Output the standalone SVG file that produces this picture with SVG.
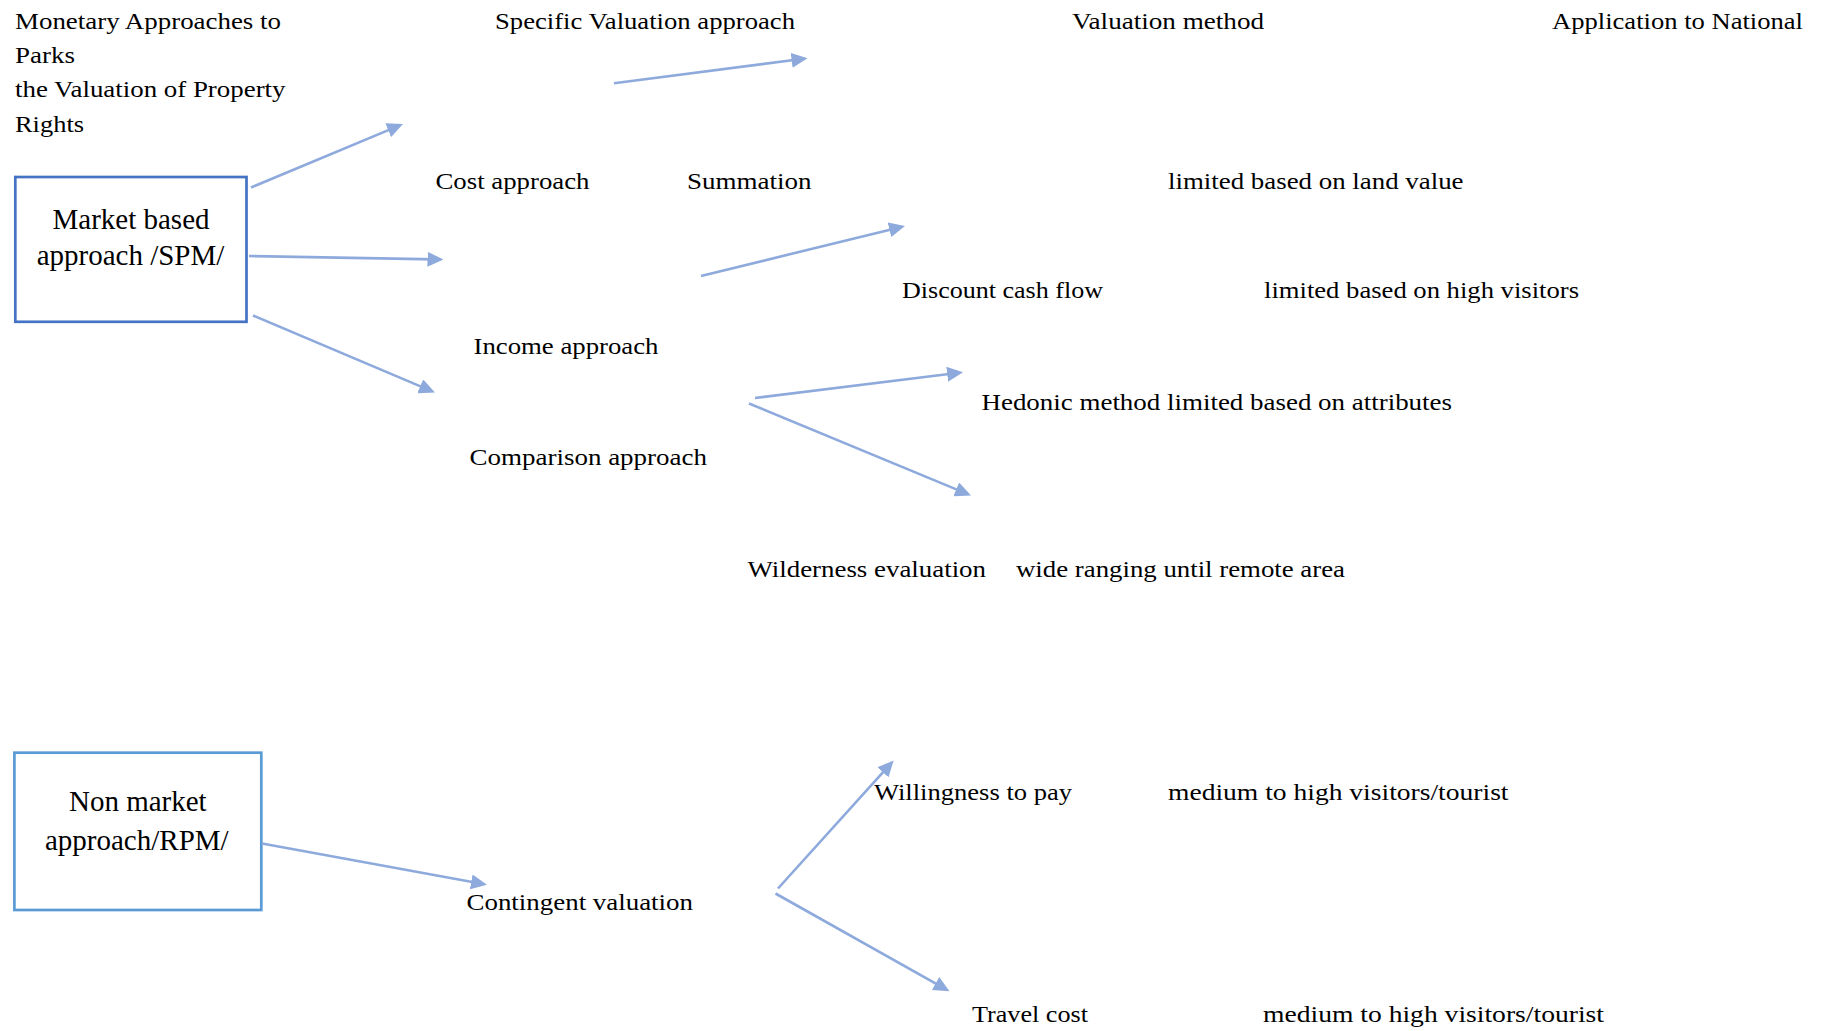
<svg xmlns="http://www.w3.org/2000/svg" width="1827" height="1031" viewBox="0 0 1827 1031">
<style>
.t{font-family:"Liberation Serif","Times New Roman",serif;font-size:24px;fill:#000}
.b{font-family:"Liberation Serif","Times New Roman",serif;font-size:29px;fill:#000;text-anchor:middle}
.c{stroke:#8eaadc;stroke-width:2.6;fill:none}
</style>
<defs>
<marker id="ah" markerUnits="userSpaceOnUse" markerWidth="16" markerHeight="15" refX="8" refY="7.5" orient="auto" viewBox="0 0 16 15">
<path d="M0,0 L16,7.5 L0,15 z" fill="#8eaadc"/>
</marker>
</defs>
<rect width="1827" height="1031" fill="#fff"/>
<g id="labels">
<text class="t" x="15" y="28.5" textLength="266" lengthAdjust="spacingAndGlyphs">Monetary Approaches to</text>
<text class="t" x="15" y="62.5" textLength="60" lengthAdjust="spacingAndGlyphs">Parks</text>
<text class="t" x="15" y="97" textLength="270.5" lengthAdjust="spacingAndGlyphs">the Valuation of Property</text>
<text class="t" x="15" y="132" textLength="69" lengthAdjust="spacingAndGlyphs">Rights</text>
<text class="t" x="495" y="28.5" textLength="300" lengthAdjust="spacingAndGlyphs">Specific Valuation approach</text>
<text class="t" x="1072" y="28.5" textLength="192" lengthAdjust="spacingAndGlyphs">Valuation method</text>
<text class="t" x="1552" y="28.5" textLength="251" lengthAdjust="spacingAndGlyphs">Application to National</text>
</g>
<g id="market-box">
<rect x="15.3" y="177" width="231.2" height="144.8" fill="none" stroke="#4472c4" stroke-width="2.7"/>
<text class="b" x="131" y="229.3">Market based</text>
<text class="b" x="130.5" y="265">approach /SPM/</text>
</g>
<g id="nonmarket-box">
<rect x="14.4" y="752.7" width="246.9" height="157.3" fill="none" stroke="#5b9bd5" stroke-width="2.7"/>
<text class="b" x="137.8" y="810.7">Non market</text>
<text class="b" x="136.8" y="850">approach/RPM/</text>
</g>
<g id="cost"><text class="t" x="435.5" y="188.5" textLength="154" lengthAdjust="spacingAndGlyphs">Cost approach</text></g>
<g id="summation"><text class="t" x="687" y="188.5" textLength="124.5" lengthAdjust="spacingAndGlyphs">Summation</text></g>
<g id="land"><text class="t" x="1168" y="188.5" textLength="295.5" lengthAdjust="spacingAndGlyphs">limited based on land value</text></g>
<g id="dcf"><text class="t" x="902" y="298" textLength="201" lengthAdjust="spacingAndGlyphs">Discount cash flow</text></g>
<g id="highvis"><text class="t" x="1264" y="298" textLength="315" lengthAdjust="spacingAndGlyphs">limited based on high visitors</text></g>
<g id="income"><text class="t" x="473.5" y="353.5" textLength="185" lengthAdjust="spacingAndGlyphs">Income approach</text></g>
<g id="hedonic"><text class="t" x="981.5" y="409.5" textLength="470.5" lengthAdjust="spacingAndGlyphs">Hedonic method limited based on attributes</text></g>
<g id="comparison"><text class="t" x="469.5" y="465" textLength="237.5" lengthAdjust="spacingAndGlyphs">Comparison approach</text></g>
<g id="wilderness"><text class="t" x="747.5" y="577" textLength="238.5" lengthAdjust="spacingAndGlyphs">Wilderness evaluation</text></g>
<g id="remote"><text class="t" x="1016" y="577" textLength="329" lengthAdjust="spacingAndGlyphs">wide ranging until remote area</text></g>
<g id="wtp"><text class="t" x="874" y="799.5" textLength="198" lengthAdjust="spacingAndGlyphs">Willingness to pay</text></g>
<g id="medium1"><text class="t" x="1168" y="799.5" textLength="340.5" lengthAdjust="spacingAndGlyphs">medium to high visitors/tourist</text></g>
<g id="contingent"><text class="t" x="466.5" y="910" textLength="226.5" lengthAdjust="spacingAndGlyphs">Contingent valuation</text></g>
<g id="travel"><text class="t" x="972" y="1021.5" textLength="116" lengthAdjust="spacingAndGlyphs">Travel cost</text></g>
<g id="medium2"><text class="t" x="1263" y="1021.5" textLength="341" lengthAdjust="spacingAndGlyphs">medium to high visitors/tourist</text></g>
<g id="connectors" class="c" marker-end="url(#ah)">
<line class="c" x1="251" y1="187.5" x2="395.6" y2="127.1" marker-end="url(#ah)"/>
<line class="c" x1="249" y1="256" x2="435.5" y2="259.4" marker-end="url(#ah)"/>
<line class="c" x1="253" y1="315.5" x2="427.6" y2="389.4" marker-end="url(#ah)"/>
<line class="c" x1="614" y1="83.3" x2="799.6" y2="59.3" marker-end="url(#ah)"/>
<line class="c" x1="701" y1="276" x2="897.2" y2="227.9" marker-end="url(#ah)"/>
<line class="c" x1="755" y1="398" x2="955.1" y2="373.3" marker-end="url(#ah)"/>
<line class="c" x1="749" y1="403.5" x2="963.6" y2="492.4" marker-end="url(#ah)"/>
<line class="c" x1="262" y1="843.5" x2="479.1" y2="883.3" marker-end="url(#ah)"/>
<line class="c" x1="778" y1="888.5" x2="888.3" y2="766.4" marker-end="url(#ah)"/>
<line class="c" x1="775.5" y1="893.5" x2="942.5" y2="987.4" marker-end="url(#ah)"/>
</g>
</svg>
